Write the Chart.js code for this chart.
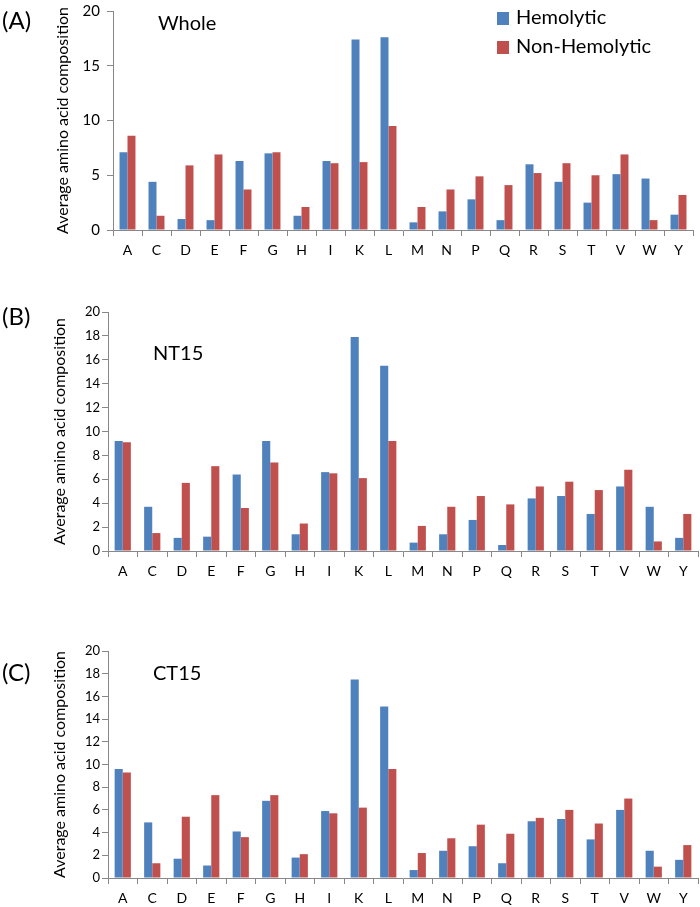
<!DOCTYPE html>
<html>
<head>
<meta charset="utf-8">
<script src="https://cdn.jsdelivr.net/npm/chart.js@4/dist/chart.umd.min.js"></script>
<style>
  html, body { margin: 0; padding: 0; background: #fff; overflow: hidden; }
  body { width: 700px; height: 907px; position: relative; font-family: Lato, "Open Sans", sans-serif; color: #000; }
  canvas { position: absolute; left: 0; }
  .lbl { position: absolute; white-space: nowrap; line-height: 1; }
  .panel { font-size: 24px; }
  .ttl { font-size: 20px; }
  .leg { position: absolute; font-size: 20px; white-space: nowrap; line-height: 1; }
  .sw { display: inline-block; width: 12px; height: 13px; margin-right: 7px; vertical-align: -1px; }
</style>
</head>
<body>
<canvas id="cA" style="top:-5px" width="700" height="265"></canvas>
<canvas id="cB" style="top:302px" width="700" height="279"></canvas>
<canvas id="cC" style="top:641px" width="700" height="267"></canvas>

<div class="lbl panel" style="left:2px; top:8px;">(A)</div>
<div class="lbl ttl" style="left:158px; top:12px;">Whole</div>
<div class="lbl panel" style="left:2px; top:304px;">(B)</div>
<div class="lbl ttl" style="left:153px; top:342px;">NT15</div>
<div class="lbl panel" style="left:2px; top:660px;">(C)</div>
<div class="lbl ttl" style="left:153px; top:662px;">CT15</div>

<div class="leg" style="left:497px; top:6px;"><span class="sw" style="background:#4F81BD"></span>Hemolytic</div>
<div class="leg" style="left:497px; top:35px;"><span class="sw" style="background:#C0504D"></span>Non-Hemolytic</div>

<script>
const categories = ["A","C","D","E","F","G","H","I","K","L","M","N","P","Q","R","S","T","V","W","Y"];
const seriesNames = ["Hemolytic", "Non-Hemolytic"];

const wholeHemolytic    = [7.1, 4.4, 1.0, 0.9, 6.3, 7.0, 1.3, 6.3, 17.4, 17.6, 0.7, 1.7, 2.8, 0.9, 6.0, 4.4, 2.5, 5.1, 4.7, 1.4];
const wholeNonHemolytic = [8.6, 1.3, 5.9, 6.9, 3.7, 7.1, 2.1, 6.1, 6.2, 9.5, 2.1, 3.7, 4.9, 4.1, 5.2, 6.1, 5.0, 6.9, 0.9, 3.2];

const nt15Hemolytic     = [9.2, 3.7, 1.1, 1.2, 6.4, 9.2, 1.4, 6.6, 17.9, 15.5, 0.7, 1.4, 2.6, 0.5, 4.4, 4.6, 3.1, 5.4, 3.7, 1.1];
const nt15NonHemolytic  = [9.1, 1.5, 5.7, 7.1, 3.6, 7.4, 2.3, 6.5, 6.1, 9.2, 2.1, 3.7, 4.6, 3.9, 5.4, 5.8, 5.1, 6.8, 0.8, 3.1];

const ct15Hemolytic     = [9.6, 4.9, 1.7, 1.1, 4.1, 6.8, 1.8, 5.9, 17.5, 15.1, 0.7, 2.4, 2.8, 1.3, 5.0, 5.2, 3.4, 6.0, 2.4, 1.6];
const ct15NonHemolytic  = [9.3, 1.3, 5.4, 7.3, 3.6, 7.3, 2.1, 5.7, 6.2, 9.6, 2.2, 3.5, 4.7, 3.9, 5.3, 6.0, 4.8, 7.0, 1.0, 2.9];

const yTitle = "Average amino acid composition";
const yMax = 20;
const yStepWhole = 5;
const yStepParts = 2;

const BLUE = "#4F81BD";
const RED = "#C0504D";
const AXIS = "#888888";
const FONT = "Lato, 'Open Sans', sans-serif";

function makeChart(id, hemo, non, cfg) {
  return new Chart(document.getElementById(id), {
    type: "bar",
    data: {
      labels: categories,
      datasets: [
        { label: seriesNames[0], data: hemo, backgroundColor: BLUE, borderWidth: 0 },
        { label: seriesNames[1], data: non, backgroundColor: RED, borderWidth: 0 }
      ]
    },
    options: {
      responsive: false,
      animation: false,
      devicePixelRatio: 1,
      layout: { padding: { left: cfg.padLeft, top: 10, right: cfg.padRight, bottom: 0 } },
      plugins: { legend: { display: false }, tooltip: { enabled: false } },
      datasets: { bar: { categoryPercentage: 0.55, barPercentage: 1.0 } },
      scales: {
        x: {
          grid: { display: true, drawOnChartArea: false, drawTicks: true, tickLength: 6, color: AXIS, offset: true },
          border: { display: true, color: AXIS, width: 1 },
          ticks: { color: "#000", font: { family: FONT, size: 14 }, padding: 6, maxRotation: 0, autoSkip: false },
          afterFit: (s) => { s.height = 30; }
        },
        y: {
          min: 0, max: yMax,
          grid: { display: true, drawOnChartArea: false, drawTicks: true, tickLength: 6, color: AXIS },
          border: { display: true, color: AXIS, width: 1 },
          ticks: { stepSize: cfg.step, color: "#000", font: { family: FONT, size: cfg.tickSize }, padding: cfg.tickPad },
          title: { display: true, text: yTitle, color: "#000", font: { family: FONT, size: 16 }, padding: { top: 4, bottom: 4 } },
          afterFit: (s) => { s.width = cfg.yWidth; }
        }
      }
    }
  });
}

makeChart("cA", wholeHemolytic, wholeNonHemolytic, { padLeft: 49, yWidth: 64, padRight: 7, step: yStepWhole, tickSize: 15, tickPad: 7 });
makeChart("cB", nt15Hemolytic, nt15NonHemolytic, { padLeft: 46, yWidth: 62, padRight: 2, step: yStepParts, tickSize: 13, tickPad: 2 });
makeChart("cC", ct15Hemolytic, ct15NonHemolytic, { padLeft: 46, yWidth: 62, padRight: 2, step: yStepParts, tickSize: 13, tickPad: 2 });
</script>
</body>
</html>
